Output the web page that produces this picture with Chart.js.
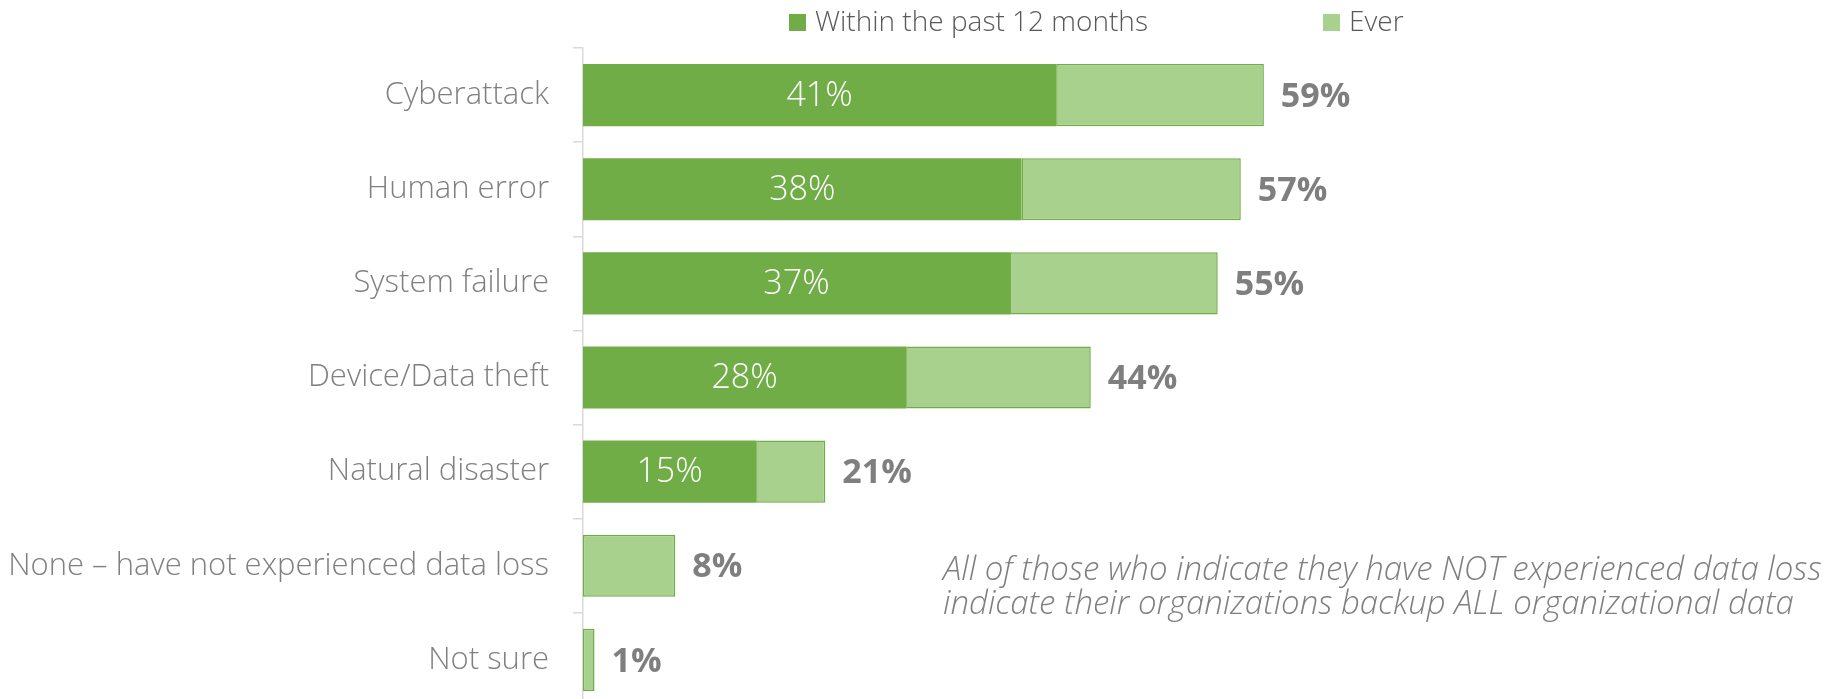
<!DOCTYPE html>
<html lang="en">
  <head>
    <meta charset="UTF-8" />
    <title>Data loss causes</title>
    <script src="https://cdn.jsdelivr.net/npm/chart.js"></script>
    <style>
      html, body {
        margin: 0;
        padding: 0;
        background: #ffffff;
        overflow: hidden;
      }
      canvas {
        display: block;
      }
    </style>
  </head>
  <body>
    <canvas id="lossChart" width="1846" height="708"></canvas>
    <script>
      // data
      const categories = [
        "Cyberattack",
        "Human error",
        "System failure",
        "Device/Data theft",
        "Natural disaster",
        "None \u2013 have not experienced data loss",
        "Not sure",
      ];
      const withinYear = [41, 38, 37, 28, 15, 0, 0];
      const everValues = [59, 57, 55, 44, 21, 8, 1];
      const seriesNames = ["Within the past 12 months", "Ever"];
      const noteLines = [
        "All of those who indicate they have NOT experienced data loss",
        "indicate their organizations backup ALL organizational data",
      ];

      const darkGreen = "#70ad47";
      const lightGreen = "#a9d18e";
      const fontFamily = "'Open Sans', 'Noto Sans', sans-serif";

      // light bars float from the 12-month value up to the "ever" value
      const everBars = everValues.map((v, i) => [withinYear[i], v]);

      const labelsPlugin = {
        id: "labels",
        afterDatasetsDraw(chart) {
          const ctx = chart.ctx;
          const inner = chart.getDatasetMeta(0).data;
          const outer = chart.getDatasetMeta(1).data;
          ctx.save();
          ctx.textBaseline = "middle";

          // values inside the dark bars
          ctx.fillStyle = "#ffffff";
          ctx.textAlign = "center";
          ctx.font = "300 34px " + fontFamily;
          inner.forEach((bar, i) => {
            if (!withinYear[i]) return;
            ctx.fillText(withinYear[i] + "%", (bar.x + bar.base) / 2, bar.y + 1);
          });

          // totals after the bars
          ctx.fillStyle = "#7f7f7f";
          ctx.textAlign = "left";
          ctx.font = "bold 34px " + fontFamily;
          outer.forEach((bar, i) => {
            ctx.fillText(everValues[i] + "%", bar.x + 17, bar.y + 2);
          });
          ctx.restore();
        },
        afterDraw(chart) {
          const ctx = chart.ctx;
          ctx.save();

          // legend
          const legendX = [789, 1323];
          ctx.font = "300 28px " + fontFamily;
          ctx.textBaseline = "alphabetic";
          ctx.textAlign = "left";
          seriesNames.forEach((name, i) => {
            ctx.fillStyle = i === 0 ? darkGreen : lightGreen;
            ctx.fillRect(legendX[i], 14, 17, 17);
            ctx.fillStyle = "#595959";
            ctx.fillText(name, legendX[i] + 26, 31);
          });

          // side note
          ctx.fillStyle = "#7f7f7f";
          ctx.font = "italic 300 33px " + fontFamily;
          noteLines.forEach((line, i) => {
            ctx.fillText(line, 943, 580 + i * 34);
          });
          ctx.restore();
        },
      };

      new Chart(document.getElementById("lossChart"), {
        type: "bar",
        data: {
          labels: categories,
          datasets: [
            {
              label: seriesNames[0],
              data: withinYear,
              backgroundColor: darkGreen,
              borderColor: darkGreen,
              borderWidth: 0,
              grouped: false,
              barPercentage: 0.66,
              categoryPercentage: 1,
            },
            {
              label: seriesNames[1],
              data: everBars,
              backgroundColor: lightGreen,
              borderColor: darkGreen,
              borderWidth: 1.5,
              borderSkipped: false,
              grouped: false,
              barPercentage: 0.66,
              categoryPercentage: 1,
            },
          ],
        },
        options: {
          indexAxis: "y",
          responsive: false,
          animation: false,
          layout: {
            padding: { top: 48, right: 109, bottom: 1, left: 0 },
          },
          plugins: {
            legend: { display: false },
            tooltip: { enabled: false },
          },
          scales: {
            x: {
              display: false,
              min: 0,
              max: 100,
            },
            y: {
              afterFit(scale) {
                scale.width = 583;
                // labels sit in the bands, no extra room needed above/below
                scale.paddingTop = 0;
                scale.paddingBottom = 0;
              },
              border: { color: "#d9d9d9", width: 1.5 },
              grid: {
                offset: true,
                drawOnChartArea: false,
                color: "#d9d9d9",
                lineWidth: 1.5,
                tickLength: 10,
              },
              ticks: {
                padding: 24,
                color: "#808080",
                font: { family: fontFamily, size: 31, weight: 300 },
              },
            },
          },
        },
        plugins: [labelsPlugin],
      });
    </script>
  </body>
</html>
